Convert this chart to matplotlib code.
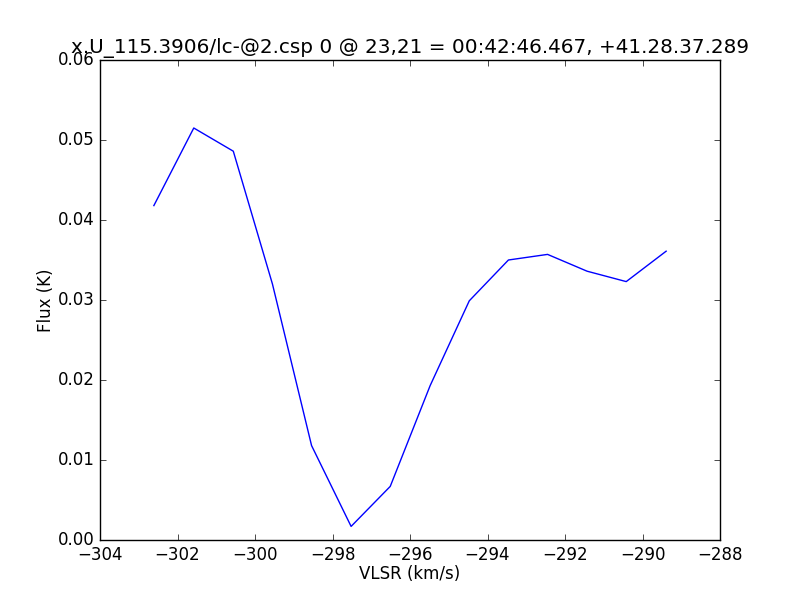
import matplotlib
matplotlib.use('Agg')
import matplotlib.pyplot as plt

# spectrum
vlsr = [-302.61, -301.58, -300.56, -299.55, -298.54, -297.52, -296.51,
        -295.48, -294.47, -293.46, -292.45, -291.43, -290.42, -289.39]
flux = [0.0418, 0.0515, 0.0486, 0.0320, 0.0118, 0.0017, 0.0067,
        0.0193, 0.0299, 0.0350, 0.0357, 0.0336, 0.0323, 0.0361]

plt.style.use('classic')

fig = plt.figure(figsize=(8, 6), dpi=100)
ax = fig.add_subplot(111)
ax.plot(vlsr, flux, 'b-')

ax.set_xlim(-304, -288)
ax.set_ylim(0, 0.06)
ax.set_xlabel("VLSR (km/s)", labelpad=1)
ax.set_ylabel("Flux (K)", labelpad=2)
ax.set_title("x.U_115.3906/lc-@2.csp 0 @ 23,21 = 00:42:46.467, +41.28.37.289")

fig.savefig("out.png", dpi=100)
